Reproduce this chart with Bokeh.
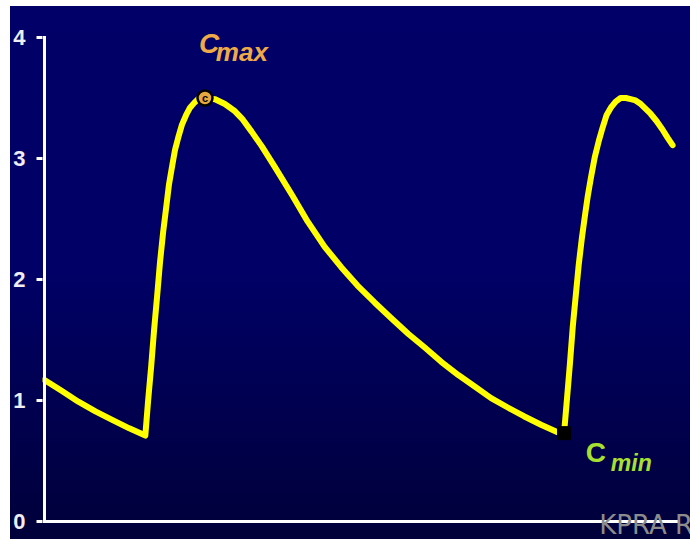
from bokeh.plotting import figure
from bokeh.models import Label, Spacer, Range1d, FixedTicker
from bokeh.layouts import row, column
from bokeh.embed import file_html
from bokeh.resources import INLINE

# Time (hours) and plasma concentration
time_h = [0.00, 0.49, 0.97, 1.46, 1.94, 2.43, 2.89,
          2.97, 3.06, 3.14, 3.23, 3.31, 3.40, 3.49, 3.57, 3.66, 3.74, 3.83,
          3.94, 4.06, 4.17, 4.29, 4.40, 4.51, 4.60,
          4.89, 5.17, 5.46, 5.66, 5.94, 6.23, 6.60, 7.09, 7.54, 8.03, 8.51,
          8.97, 9.46, 9.94, 10.43, 10.89, 11.37, 11.86, 12.31, 12.80, 13.29,
          13.74, 14.23, 14.69, 14.89,
          14.97, 15.06, 15.14, 15.23, 15.31, 15.40, 15.49, 15.57, 15.66, 15.77,
          15.89, 16.00, 16.11, 16.23, 16.37, 16.51, 16.66, 16.80, 16.94, 17.09,
          17.23, 17.37, 17.54, 17.71, 17.86, 18.00]
conc = [1.17, 1.08, 0.99, 0.91, 0.84, 0.77, 0.71,
        1.00, 1.29, 1.58, 1.87, 2.14, 2.39, 2.60, 2.79, 2.94, 3.07, 3.17,
        3.28, 3.36, 3.42, 3.46, 3.49, 3.50, 3.50,
        3.49, 3.45, 3.39, 3.33, 3.22, 3.10, 2.93, 2.70, 2.48, 2.27, 2.10,
        1.95, 1.81, 1.68, 1.55, 1.44, 1.32, 1.21, 1.12, 1.02, 0.94,
        0.87, 0.80, 0.74, 0.73,
        1.00, 1.31, 1.61, 1.88, 2.12, 2.34, 2.53, 2.69, 2.84, 3.01,
        3.15, 3.26, 3.36, 3.42, 3.47, 3.50, 3.50, 3.49, 3.48, 3.45,
        3.41, 3.37, 3.31, 3.24, 3.17, 3.11]

cmax_t = [4.60]
cmax_c = [3.50]
cmin_t = [14.89]
cmin_c = [0.73]

y_ticks = [0, 1, 2, 3, 4]
x_axis_end = 18.14
watermark_text = "KPRA R"

p = figure(width=680, height=533,
           x_range=Range1d(-0.0571, 18.514), y_range=Range1d(-0.1488, 4.2562),
           output_backend="svg", toolbar_location=None, x_axis_location=None,
           min_border_left=30, min_border_right=0, min_border_top=0, min_border_bottom=0)
p.border_fill_color = None
p.background_fill_color = None
p.outline_line_color = None
p.styles = {"background": "linear-gradient(to bottom, #000068 0%, #000066 50%, #00003a 100%)"}
p.grid.visible = False

# y axis: ticks and labels from Bokeh, its line drawn below with the x-axis line
p.yaxis.ticker = FixedTicker(ticks=y_ticks)
p.yaxis.axis_line_color = None
p.yaxis.major_tick_line_color = "white"
p.yaxis.major_tick_line_width = 3
p.yaxis.major_tick_out = 6
p.yaxis.major_tick_in = 0
p.yaxis.minor_tick_line_color = None
p.yaxis.major_label_text_font = "Liberation Sans"
p.yaxis.major_label_text_font_style = "bold"
p.yaxis.major_label_text_font_size = "22px"
p.yaxis.major_label_text_color = "#eeeef4"
p.yaxis.major_label_standoff = 11

p.line(time_h, conc, line_color="#ffff00", line_width=6, line_join="round", line_cap="round")

# axis lines
p.segment(x0=[0, 0], y0=[y_ticks[0], y_ticks[0]], x1=[0, x_axis_end], y1=[y_ticks[-1], y_ticks[0]],
          line_color="white", line_width=3, line_cap="square")

p.scatter(cmin_t, cmin_c, marker="square", size=13, fill_color="black", line_color="black")
p.scatter(cmax_t, cmax_c, marker="circle", size=15, fill_color="#e8a840",
          line_color="black", line_width=2.5)
p.add_layout(Label(x=cmax_t[0], y=cmax_c[0], text="c", text_font="Liberation Sans",
                   text_font_style="bold", text_font_size="11px", text_color="black",
                   text_align="center", text_baseline="middle"))

# C_max label
p.add_layout(Label(x=4.43, y=3.95, text="C", text_font="Liberation Sans",
                   text_font_style="bold italic", text_font_size="28px",
                   text_color="#eeaa48", text_baseline="alphabetic"))
p.add_layout(Label(x=4.91, y=3.88, text="max", text_font="Liberation Sans",
                   text_font_style="bold italic", text_font_size="26px",
                   text_color="#eeaa48", text_baseline="alphabetic"))
# C_min label
p.add_layout(Label(x=15.51, y=0.57, text="C", text_font="Liberation Sans",
                   text_font_style="bold", text_font_size="28px",
                   text_color="#a8e030", text_baseline="alphabetic"))
p.add_layout(Label(x=16.23, y=0.48, text="min", text_font="Liberation Sans",
                   text_font_style="bold italic", text_font_size="23px",
                   text_color="#a8e030", text_baseline="alphabetic"))

# watermark over the x-axis line
p.add_layout(Label(x=15.90, y=-0.033, text=watermark_text, text_font="DejaVu Sans",
                   text_font_size="26px", text_color="#8c8c8c", text_baseline="alphabetic"))

layout = row(Spacer(width=10, height=539), column(Spacer(width=680, height=6), p))

open("out.html", "w").write(file_html(layout, INLINE))
